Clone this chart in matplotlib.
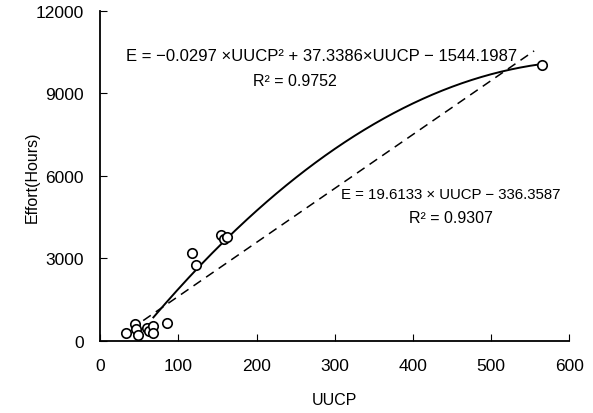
import matplotlib
matplotlib.use("Agg")
import matplotlib.pyplot as plt
import numpy as np

plt.rcParams["font.family"] = ["Liberation Sans", "DejaVu Sans"]

# observed projects
uucp = [33, 45, 46, 48, 60, 62, 68, 68, 86, 117, 122, 155, 158, 162, 565]
effort = [280, 620, 420, 230, 480, 380, 560, 300, 650, 3200, 2750, 3850, 3700, 3780, 10050]

# fitted trend lines (coefficients as printed on the chart)
quad_coef = [-0.0297, 37.3386, -1544.1987]
lin_coef = [19.6133, -336.3587]
quad_range = [68, 565]
lin_range = [55, 555]

xticks = [0, 100, 200, 300, 400, 500, 600]
yticks = [0, 3000, 6000, 9000, 12000]

fig = plt.figure(figsize=(5.93, 4.14), dpi=100)
ax = fig.add_axes([0.169, 0.174, 0.791, 0.797])

xq = np.linspace(quad_range[0], quad_range[1], 200)
ax.plot(xq, np.polyval(quad_coef, xq), "-", color="black", lw=1.4)
xl = np.array(lin_range)
ax.plot(xl, np.polyval(lin_coef, xl), "--", color="black", lw=1.1, dashes=(6, 4))
ax.plot(uucp, effort, "o", mfc="white", mec="black", mew=1.2, ms=6.8, zorder=3)

ax.text(283, 10364, "E = \u22120.0297 \u00d7UUCP\u00b2 + 37.3386\u00d7UUCP \u2212 1544.1987",
        ha="center", va="center", fontsize=12)
ax.text(249, 9490, "R\u00b2 = 0.9752", ha="center", va="center", fontsize=11.5)
ax.text(448, 5345, "E = 19.6133 \u00d7 UUCP \u2212 336.3587", ha="center", va="center", fontsize=10.8)
ax.text(448, 4473, "R\u00b2 = 0.9307", ha="center", va="center", fontsize=11.5)

ax.set_xlim(0, 600); ax.set_ylim(0, 12000)
ax.set_xticks(xticks); ax.set_yticks(yticks)
ax.tick_params(direction="in", length=5, labelsize=12.5, pad=12)
for s in ("top", "right"):
    ax.spines[s].set_visible(False)
for s in ("left", "bottom"):
    ax.spines[s].set_linewidth(1.3)
ax.set_xlabel("UUCP", fontsize=11.5, labelpad=14)
ax.set_ylabel("Effort(Hours)", fontsize=11.5, labelpad=-3)

fig.savefig("out.png", dpi=100)
